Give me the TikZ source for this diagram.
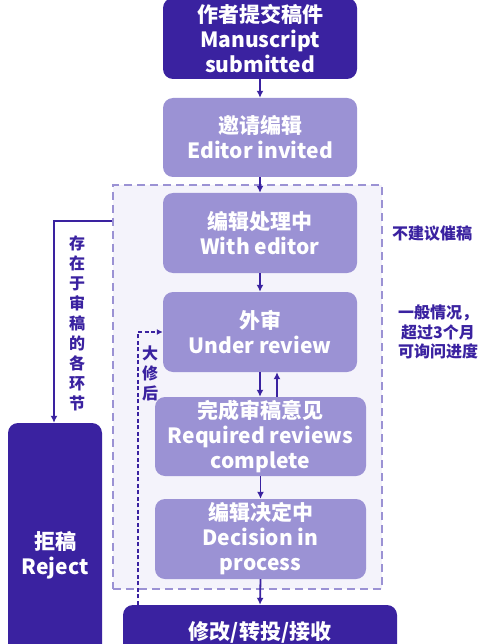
\documentclass[tikz,border=0pt]{standalone}
\usepackage{fontspec}
\setmainfont{Noto Sans CJK SC}
\usetikzlibrary{arrows.meta}
\definecolor{dk}{HTML}{3A22A0}
\definecolor{lt}{HTML}{9B92D4}
\definecolor{bgl}{HTML}{F4F3FB}
\tikzset{
  box/.style={rounded corners=10pt, text=white, align=center, inner sep=0pt,
    font=\bfseries\fontsize{21}{25}\selectfont},
  darkbox/.style={box, fill=dk},
  lightbox/.style={box, fill=lt},
  lab/.style={text=dk, align=center, inner sep=0pt, font=\bfseries\fontsize{16}{19.5}\selectfont},
  vlab/.style={text=dk, align=center, inner sep=0pt, font=\bfseries\fontsize{16}{20}\selectfont},
  flow/.style={draw=dk, line width=1.8pt, -{Latex[length=7pt,width=7pt]}},
}
\begin{document}
\begin{tikzpicture}[x=1pt,y=1pt]
\useasboundingbox (0,0) rectangle (485,-644);
\clip (0,0) rectangle (485,-644);
% stage frame
\node[draw=lt, fill=bgl, dash pattern=on 8pt off 5pt, line width=1.2pt, minimum width=269pt, minimum height=404pt, inner sep=0pt] (stage) at (247.5,-387) {};
% boxes
\node[darkbox, minimum width=194pt, minimum height=81pt] (b1) at (260,-38.5) {作者提交稿件\\Manuscript\\submitted};
\node[lightbox, minimum width=194pt, minimum height=79pt] (b2) at (260,-137.5) {邀请编辑\\Editor invited};
\node[lightbox, minimum width=194pt, minimum height=80pt] (b3) at (260,-233) {编辑处理中\\With editor};
\node[lightbox, minimum width=194pt, minimum height=80pt] (b4) at (260,-332) {外审\\Under review};
\node[lightbox, minimum width=211pt, minimum height=79pt] (b5) at (260.5,-436.5) {完成审稿意见\\Required reviews\\complete};
\node[lightbox, minimum width=211pt, minimum height=80pt] (b6) at (260.5,-539) {编辑决定中\\Decision in\\process};
\node[darkbox, minimum width=274pt, minimum height=54pt] (bot) at (260,-632) {修改/转投/接收};
\node[darkbox, minimum width=94pt, minimum height=265pt] (rej) at (55,-555.5) {拒稿\\Reject};
% labels
\node[lab] (l1) at (432,-233) {不建议催稿};
\node[lab] (l2) at (438,-332) {一般情况，\\超过3个月\\可询问进度};
\node[vlab] (vl) at (77,-323) {存\\在\\于\\审\\稿\\的\\各\\环\\节};
\node[vlab] (vr) at (150,-373.5) {大\\修\\后};
% connectors
\draw[flow] (b1.south) -- (b2.north);
\draw[flow] (b2.south) -- (b3.north);
\draw[flow] (b3.south) -- (b4.north);
\draw[flow] ([xshift=0pt]b4.south) -- ([xshift=-0.5pt]b5.north);
\draw[flow] ([xshift=16.5pt]b5.north) -- ([xshift=17pt]b4.south);
\draw[flow] (b5.south) -- (b6.north);
\draw[flow] (b6.south) -- (bot.north);
\coordinate (rj) at (54,-221);
\draw[flow, line width=2.2pt] (stage.west |- rj) -- (rj) -- (rej.north -| rj);
\coordinate (mr) at (138,-332);
\draw[draw=dk, line width=1.2pt, dash pattern=on 4pt off 2.5pt, -{Latex[length=6pt,width=6pt]}] (bot.north -| mr) -- (mr) -- (b4.west);
\end{tikzpicture}
\end{document}
